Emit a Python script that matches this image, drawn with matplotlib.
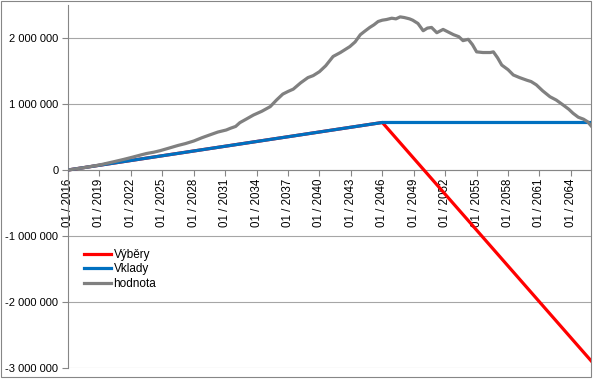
import matplotlib
matplotlib.use("Agg")
import matplotlib.pyplot as plt
from matplotlib.patches import Rectangle
from matplotlib.ticker import FuncFormatter

plt.rcParams['font.family'] = ['Liberation Sans', 'DejaVu Sans']
plt.rcParams['font.size'] = 8

# Vklady / Výběry (cumulative), years as decimals
vklady_x = [2016.0, 2046.0, 2065.92]
vklady_y = [0, 720000, 720000]
vybery_x = [2016.0, 2046.0, 2065.92]
vybery_y = [0, 720000, -2890000]

# hodnota portfolia
hodnota_x = [2016.0, 2017.5, 2019.0, 2020.5, 2021.3, 2022.1, 2023.0, 2023.5, 2024.2, 2024.8,
             2025.6, 2026.5, 2027.2, 2028.0, 2028.8, 2029.5, 2030.3, 2031.1, 2031.5, 2032.0,
             2032.4, 2033.0, 2033.7, 2034.5, 2035.3, 2035.9, 2036.5, 2037.0, 2037.5, 2038.2,
             2038.9, 2039.4, 2040.0, 2040.6, 2041.3, 2042.0, 2042.9, 2043.4, 2043.9, 2044.3,
             2044.8, 2045.2, 2045.6, 2046.0, 2046.4, 2046.9, 2047.3, 2047.7, 2048.1, 2048.6,
             2048.9, 2049.4, 2049.9, 2050.3, 2050.7, 2051.2, 2051.8, 2052.3, 2052.8, 2053.3,
             2053.7, 2054.2, 2054.6, 2055.0, 2055.6, 2056.3, 2056.6, 2057.0, 2057.4, 2058.0,
             2058.5, 2059.1, 2059.8, 2060.2, 2060.7, 2061.3, 2062.0, 2062.6, 2063.3, 2063.8,
             2064.2, 2064.7, 2065.2, 2065.6, 2065.92]
hodnota_y = [0, 35000, 76000, 130000, 160000, 192000, 230000, 250000, 270000, 293000,
             330000, 372000, 400000, 439000, 490000, 530000, 575000, 606000, 632000, 660000,
             717000, 770000, 833000, 890000, 960000, 1060000, 1150000, 1190000, 1225000, 1320000,
             1400000, 1430000, 1490000, 1580000, 1720000, 1780000, 1870000, 1940000, 2050000, 2100000,
             2160000, 2200000, 2250000, 2270000, 2280000, 2300000, 2290000, 2320000, 2310000, 2290000,
             2270000, 2220000, 2110000, 2150000, 2160000, 2080000, 2130000, 2090000, 2050000, 2020000,
             1960000, 1980000, 1900000, 1790000, 1780000, 1780000, 1790000, 1700000, 1590000, 1520000,
             1440000, 1400000, 1360000, 1340000, 1290000, 1200000, 1110000, 1060000, 980000, 920000,
             860000, 800000, 770000, 730000, 670000]

tick_years = list(range(2016, 2065, 3))
tick_labels = ["01 / %d" % y for y in tick_years]
y_ticks = [-3000000, -2000000, -1000000, 0, 1000000, 2000000]

fig = plt.figure(figsize=(5.93, 3.79), dpi=100)
ax = fig.add_axes([68 / 593, 11 / 379, 523 / 593, 363 / 379])

ax.plot(vybery_x, vybery_y, color='#ff0000', lw=2.3, label='Výběry', zorder=3)
ax.plot(vklady_x, vklady_y, color='#0070c0', lw=2.3, label='Vklady', zorder=4)
ax.plot(hodnota_x, hodnota_y, color='#808080', lw=2.3, label='hodnota', zorder=5)

ax.set_xlim(2016, 2016 + 599 / 12)
ax.set_ylim(-3000000, 2500000)

ax.set_yticks(y_ticks)
ax.yaxis.set_major_formatter(FuncFormatter(lambda v, p: f"{v:,.0f}".replace(",", " ")))
ax.set_xticks(tick_years)
ax.set_xticklabels(tick_labels)

ax.grid(axis='y', color='#a6a6a6', lw=0.8)
ax.set_axisbelow(True)
for s in ['top', 'right']:
    ax.spines[s].set_visible(False)
ax.spines['bottom'].set_position(('data', 0))
ax.spines['bottom'].set_color('#868686')
ax.spines['left'].set_color('#868686')
ax.spines['bottom'].set_zorder(2)
ax.tick_params(axis='both', colors='#868686', labelcolor='black', length=4, width=0.8)
ax.tick_params(axis='x', pad=2, labelrotation=90, labelsize=8.3)
ax.tick_params(axis='y', pad=3)

ax.legend(loc='upper left', bbox_to_anchor=(84 / 593, 1 - 249 / 379),
          bbox_transform=fig.transFigure, frameon=False, borderpad=0,
          borderaxespad=0, handlelength=2.3, handletextpad=0.2, labelspacing=0.2,
          prop={'size': 8.5})

fig.patches.append(Rectangle((0.5 / 593, 2 / 379), 590.5 / 593, 376.5 / 379,
                             transform=fig.transFigure, fill=False,
                             edgecolor='#868686', lw=0.8))

fig.savefig('out.png', dpi=100)
